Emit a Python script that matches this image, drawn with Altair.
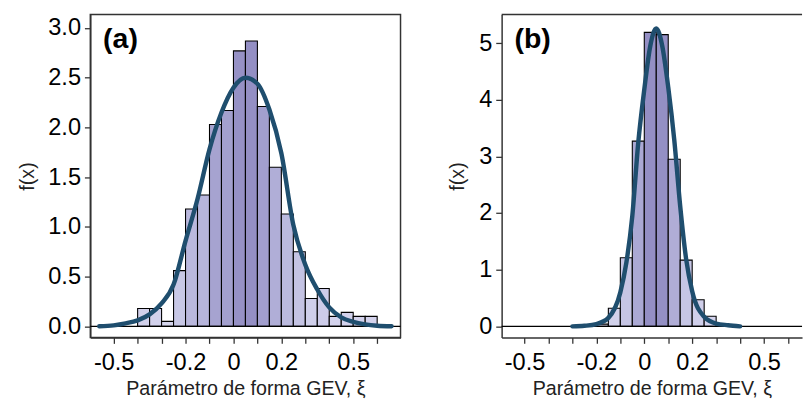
import altair as alt
import pandas as pd

# ---------------- data ----------------
BIN_W = 0.05

a_bin_start = [-0.40, -0.35, -0.30, -0.25, -0.20, -0.15, -0.10, -0.05, 0.00, 0.05,
               0.10, 0.15, 0.20, 0.25, 0.30, 0.35, 0.40, 0.45, 0.50, 0.55]
a_density = [0.18, 0.18, 0.05, 0.56, 1.18, 1.32, 2.03, 2.17, 2.77, 2.87,
             2.21, 1.60, 1.13, 0.75, 0.28, 0.38, 0.10, 0.14, 0.10, 0.10]

a_curve_x = [-0.56, -0.50, -0.45, -0.40, -0.35, -0.30, -0.25, -0.20, -0.15, -0.10,
             -0.05, 0.00, 0.05, 0.10, 0.15, 0.20, 0.25, 0.30, 0.35, 0.40,
             0.45, 0.50, 0.55, 0.60, 0.66]
a_curve_y = [0.00, 0.01, 0.03, 0.06, 0.12, 0.23, 0.42, 0.86, 1.28, 1.78,
             2.15, 2.40, 2.50, 2.44, 2.18, 1.74, 1.02, 0.62, 0.37, 0.19,
             0.09, 0.045, 0.02, 0.006, 0.00]

b_bin_start = [-0.20, -0.15, -0.10, -0.05, 0.00, 0.05, 0.10, 0.15, 0.20, 0.25]
b_density = [0.04, 0.32, 1.21, 3.27, 5.19, 5.15, 2.95, 1.17, 0.47, 0.18]

b_curve_x = [-0.30, -0.25, -0.20, -0.15, -0.10, -0.075, -0.05, -0.025, 0.00, 0.025,
             0.05, 0.075, 0.10, 0.125, 0.15, 0.175, 0.20, 0.25, 0.30, 0.35, 0.40]
b_curve_y = [0.00, 0.01, 0.04, 0.15, 0.60, 1.12, 1.95, 3.25, 4.18, 4.95,
             5.26, 4.95, 4.22, 3.30, 2.12, 1.18, 0.62, 0.17, 0.05, 0.02, 0.00]

x_tick_values = [-0.5, -0.4, -0.3, -0.2, -0.1, 0.0, 0.1, 0.2, 0.3, 0.4, 0.5, 0.6]
x_tick_labels = ["-0.5", "", "", "-0.2", "", "0", "", "0.2", "", "", "0.5", ""]

a_y_ticks = [0.0, 0.5, 1.0, 1.5, 2.0, 2.5, 3.0]
b_y_ticks = [0, 1, 2, 3, 4, 5]

panel_labels = ["(a)", "(b)"]
x_title = "Parámetro de forma GEV, ξ"
y_title = "f(x)"

# ---------------- styling ----------------
FONT = "Liberation Sans"
CURVE = "#1f4e6e"
FILL_RANGE = ["#d6d6ee", "#948fc4"]
FRAME = "#333333"
TICK_FS = 24
TITLE_FS = 20


def label_expr(values, labels):
    expr = "''"
    for v, l in reversed(list(zip(values, labels))):
        expr = f"abs(datum.value - ({v})) < 1e-6 ? '{l}' : ({expr})"
    return expr


def panel(bin_start, dens, cx, cy, xdom, ydom, yticks, yfmt, width, label, framed):
    bars_df = pd.DataFrame({
        "x0": bin_start,
        "x1": [b + BIN_W for b in bin_start],
        "d": dens,
    })
    curve_df = pd.DataFrame({"cx": cx, "cy": cy})
    one = pd.DataFrame({"lab": [label]})

    xaxis = alt.Axis(values=x_tick_values,
                     labelExpr=label_expr(x_tick_values, x_tick_labels),
                     tickSize=6, labelPadding=8, grid=False,
                     labelFontSize=TICK_FS, titleFontSize=TITLE_FS, titlePadding=4,
                     labelOverlap=False, labelFlush=False,
                     domainColor=FRAME, domainWidth=1.5,
                     tickColor=FRAME, tickWidth=1.3,
                     labelColor="black", titleColor="#222222",
                     titleFontWeight="normal")
    yaxis = alt.Axis(values=yticks, format=yfmt,
                     tickSize=6, labelPadding=4, grid=False,
                     labelFontSize=TICK_FS, titleFontSize=TITLE_FS, titlePadding=11,
                     labelOverlap=False, labelFlush=False,
                     domainColor=FRAME, domainWidth=1.5,
                     tickColor=FRAME, tickWidth=1.3,
                     labelColor="black", titleColor="#222222",
                     titleFontWeight="normal")
    xs = alt.Scale(domain=xdom, nice=False, zero=False)
    ys = alt.Scale(domain=ydom, nice=False, zero=False)

    bars = alt.Chart(bars_df).mark_rect(stroke="black", strokeWidth=1.1).encode(
        x=alt.X("x0:Q", scale=xs, axis=xaxis, title=x_title),
        x2="x1:Q",
        y=alt.Y("d:Q", scale=ys, axis=yaxis, title=y_title),
        y2=alt.datum(0),
        fill=alt.Fill("d:Q", scale=alt.Scale(domain=[0, max(dens)], range=FILL_RANGE),
                      legend=None),
    )
    zero = alt.Chart(one).mark_rule(color="black", strokeWidth=1.4).encode(
        y=alt.datum(0)
    )
    curve = alt.Chart(curve_df).mark_line(
        color=CURVE, strokeWidth=4.5, interpolate="monotone",
        strokeCap="round", clip=True
    ).encode(
        x=alt.X("cx:Q", scale=xs, axis=xaxis, title=x_title),
        y=alt.Y("cy:Q", scale=ys, axis=yaxis, title=y_title),
    )
    text = alt.Chart(one).mark_text(
        align="left", baseline="middle", fontSize=29, fontWeight="bold",
        font=FONT, color="black"
    ).encode(x=alt.value(13), y=alt.value(25), text="lab:N")

    layers = [bars, zero, curve, text]
    if not framed:
        top = alt.Chart(one).mark_rule(color=FRAME, strokeWidth=1.5).encode(
            y=alt.value(0)
        )
        layers.append(top)

    ch = alt.layer(*layers).properties(
        width=width, height=329,
        view=alt.ViewBackground(stroke=FRAME if framed else "transparent",
                                strokeWidth=1.5)
    )
    return ch


pa = panel(a_bin_start, a_density, a_curve_x, a_curve_y,
           [-0.5975, 0.6975], [-0.112, 3.136], a_y_ticks, ".1f", 316,
           panel_labels[0], True)
pb = panel(b_bin_start, b_density, b_curve_x, b_curve_y,
           [-0.5955, 0.6586], [-0.196, 5.506], b_y_ticks, "d", 306,
           panel_labels[1], False)

chart = alt.hconcat(pa, pb, spacing=45).resolve_scale(
    fill="independent", x="independent", y="independent"
).properties(
    padding={"left": 16, "top": 9, "right": 0, "bottom": 0},
    background="white",
).configure(font=FONT)

chart.save("out.html", embed_options={"renderer": "svg", "actions": False})
